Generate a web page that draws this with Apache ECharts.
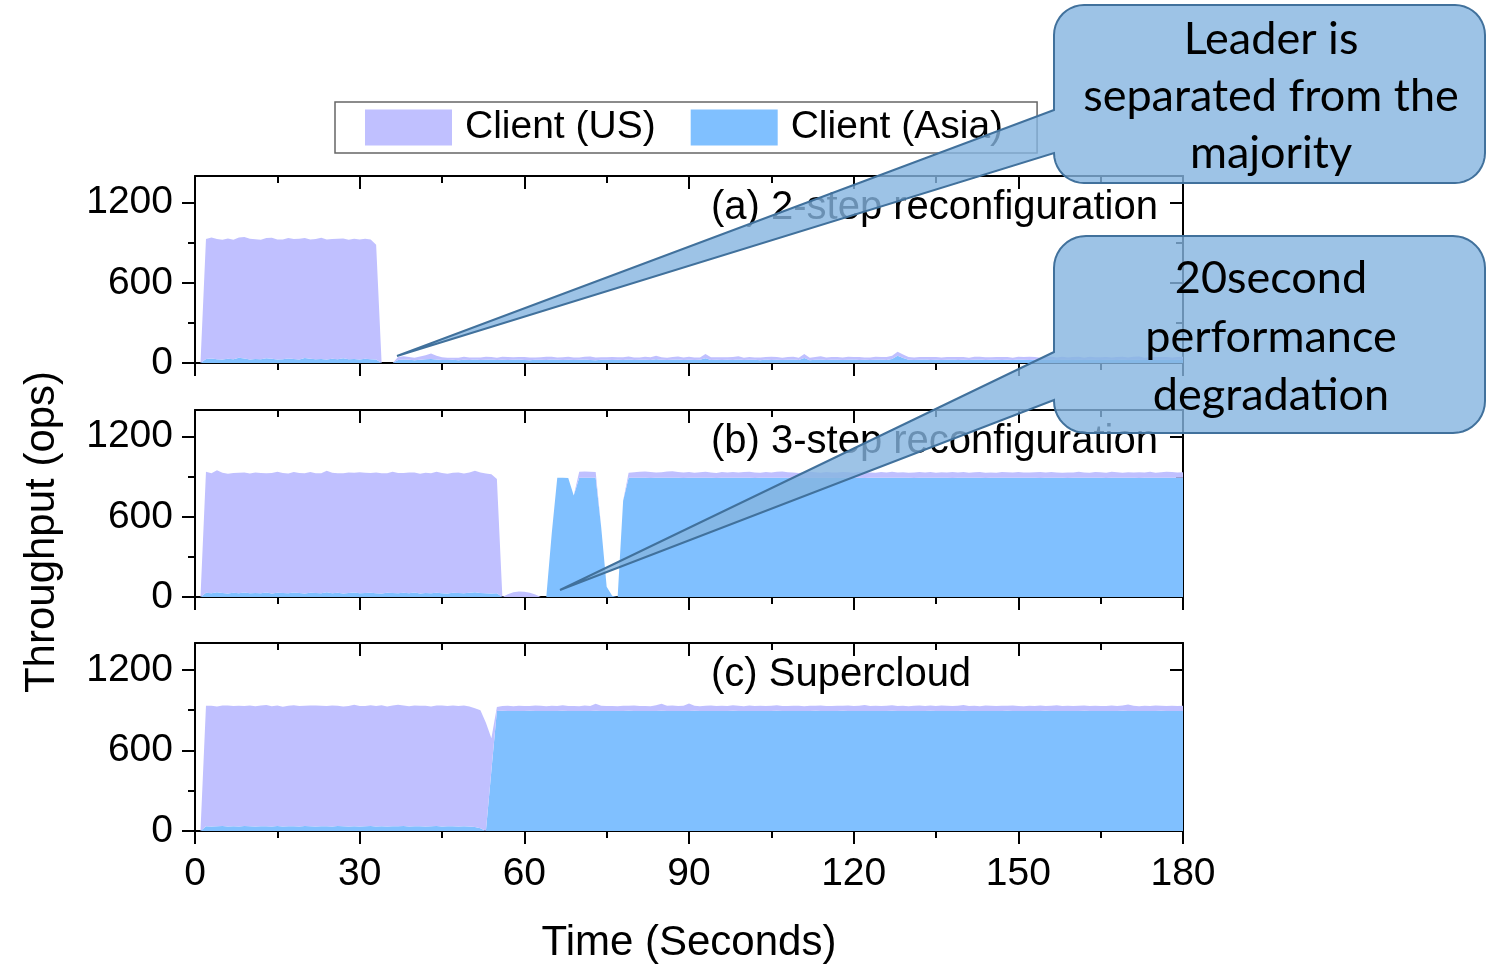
<!DOCTYPE html>
<html><head><meta charset="utf-8">
<script src="https://cdn.jsdelivr.net/npm/echarts@6/dist/echarts.min.js"></script>
<style>html,body{margin:0;padding:0;background:#fff}#c{width:1486px;height:972px}</style>
</head><body><div id="c"></div>
<script>
// ---------------- DATA ----------------
const seriesNames = ['Client (US)', 'Client (Asia)'];
const panelTitles = ['(a) 2-step reconfiguration', '(b) 3-step reconfiguration', '(c) Supercloud'];
const yMajorTicks = [0, 600, 1200];
const yMinorTicks = [300, 900];
const times = Array.from({length: 181}, (_, i) => i); // seconds 0..180

// (a) 2-step reconfiguration
const usA = [0,0,
 898,905,900,896,902,893,899,910,903,897,894,901,906,898,895,903,899,904,897,893,900,907,899,896,902,898,894,901,897,900,895,
 858,
 0,0,0,
 22,25,20,18,24,30,42,28,20,17,
 15,18,21,19,16,20,22,18,17,21,
 23,19,18,22,20,17,19,24,21,18,
 20,22,19,17,21,25,20,18,19,22,
 18,20,23,19,17,21,20,26,19,18,
 20,22,18,21,19,17,32,20,18,21,
 19,22,24,18,20,17,21,19,23,20,
 18,21,20,17,30,19,20,24,18,21,
 19,20,22,18,21,17,20,23,19,22,
 24,30,26,20,18,21,19,22,20,18,
 21,19,23,20,17,22,19,21,18,20,
 22,19,17,21,20,24,19,18,22,20,
 19,21,18,23,20,17,22,19,21,20,
 18,22,20,19,21,24,18,20,22,19,
 21,18,20,22];
const asiaA = [0,0,
 30,34,28,26,31,29,40,33,27,30,28,35,31,26,29,33,30,27,38,31,28,30,26,32,29,35,28,30,27,31,29,
 27,
 0,0,0,
 22,26,24,21,25,28,30,26,23,22,
 24,21,25,23,26,22,24,27,23,25,
 22,24,26,23,21,25,24,22,26,24,
 23,25,22,24,26,23,21,25,24,22,
 25,23,26,22,24,25,23,28,24,22,
 24,26,23,25,22,24,35,23,25,22,
 24,23,26,22,25,24,21,26,23,25,
 22,24,26,23,38,21,24,27,23,24,
 25,22,24,26,23,25,22,24,26,23,
 30,55,38,25,23,24,26,22,25,23,
 24,26,22,25,23,24,27,22,25,24,
 23,25,22,26,24,23,25,22,24,26,
 23,25,24,22,26,23,25,24,22,25,
 24,22,26,23,25,24,22,25,23,26,
 24,23,25,24];

// (b) 3-step reconfiguration
const usB = [0,0,
 905,898,912,900,895,897,902,899,896,903,
 900,894,901,907,899,896,902,898,900,905,
 897,899,910,902,896,900,903,898,906,901,
 897,904,899,895,908,900,897,903,899,896,
 901,898,906,900,895,899,903,897,901,910,
 902,896,893,
 855,
 0,
 20,35,42,40,32,18,
 0,0,0,0,0,0,0,
 45,48,46,44,
 0,0,0,0,0,
 38,42,45,48,44,40,42,46,50,44,
 41,43,39,42,45,40,38,43,41,44,
 40,42,46,41,39,43,40,44,48,42,
 40,38,42,45,41,39,43,40,42,44,
 41,39,44,42,40,38,43,41,45,40,
 42,39,41,44,40,43,38,42,40,45,
 41,43,39,42,44,40,41,38,43,42,
 40,44,41,39,42,45,40,43,41,38,
 42,40,44,41,39,43,42,40,45,41,
 39,42,40,43,41,44,38,42,46,43,
 40,42];
const asiaB = [0,0,
 32,28,36,30,27,31,29,33,28,30,
 29,33,27,31,30,28,34,30,27,31,
 30,28,35,29,31,27,30,33,28,30,
 31,29,27,32,30,28,31,29,33,27,
 30,28,32,29,27,31,30,28,32,35,
 30,28,26,
 29,
 0,0,0,0,0,0,0,0,0,
 480,892,892,890,760,892,892,892,892,524,77,10,0,720,
 892,892,893,892,891,892,892,893,892,892,
 891,892,892,892,893,892,891,892,892,892,
 892,893,892,891,892,892,892,893,892,892,
 892,891,892,892,893,892,892,892,891,892,
 893,892,892,891,892,892,893,892,892,892,
 892,892,891,892,893,892,892,892,892,891,
 892,893,892,892,892,891,892,892,893,892,
 892,892,892,893,892,891,892,892,892,892,
 891,892,893,892,892,892,892,891,892,893,
 892,892,892,891,892,893,892,892,892,892,
 892,892];

// (c) Supercloud
const usC = [0,0,
 896,899,893,897,901,895,898,894,900,896,
 899,903,895,897,892,898,901,896,894,899,
 902,897,895,900,896,893,898,904,897,895,
 899,896,901,894,898,906,897,895,900,896,
 898,893,897,901,895,899,896,900,894,885,
 880,806,240,
 30,35,38,36,39,37,35,40,38,36,
 39,37,41,36,38,35,40,37,52,39,
 36,38,35,39,37,40,36,38,35,42,
 52,38,40,36,39,56,37,35,38,40,
 36,39,37,41,38,35,40,37,39,36,
 38,41,37,36,40,38,35,39,37,41,
 38,36,39,37,40,36,38,45,37,39,
 36,38,41,37,39,35,38,40,36,39,
 37,41,38,36,39,44,37,38,36,40,
 38,36,39,37,41,38,35,39,37,40,
 36,38,42,37,39,36,38,40,37,39,
 38,36,40,37,39,48,38,36,39,37,
 40,38,36,39,37,38];
const asiaC = [0,0,
 36,34,35,38,33,36,34,37,35,33,
 36,35,34,37,33,35,36,34,38,35,
 33,36,35,34,37,35,33,36,34,35,
 37,34,35,33,36,35,38,34,35,36,
 34,35,37,33,35,36,34,35,33,30,
 20,0,450,
 894,895,894,893,894,894,895,894,894,893,
 894,894,895,894,893,894,894,894,895,894,
 894,893,894,894,895,894,894,893,894,894,
 895,894,894,894,893,894,895,894,894,894,
 894,893,894,895,894,894,894,893,894,894,
 894,895,894,894,893,894,894,894,895,894,
 893,894,894,895,894,894,894,893,894,894,
 894,894,895,894,893,894,894,894,894,895,
 894,893,894,894,894,895,894,894,893,894,
 894,894,894,895,894,893,894,894,894,894,
 895,894,894,893,894,894,894,895,894,894,
 893,894,894,894,895,894,894,893,894,894,
 894,895,894,894,893,894];

const panels = [
  {us: usA, asia: asiaA},
  {us: usB, asia: asiaB},
  {us: usC, asia: asiaC}
];

// ---------------- STYLE / LAYOUT ----------------
const FONT = '"Liberation Sans", Arial, sans-serif';
const CALLOUT_FONT = 'Lato, "Open Sans", sans-serif';
const COL_US = '#c0c0ff';
const COL_ASIA = '#80c0ff';
const gridTops = [176, 410, 643];
const GRID_H = 187;

const grid = [], xAxis = [], yAxis = [], series = [];
const lineBlack = {color: '#000', width: 2};
const plain = v => String(v);

gridTops.forEach((top, i) => {
  grid.push({left: 195, right: 303, top: top, height: GRID_H + (i === 2 ? 1 : 0), containLabel: false});
  const last = i === 2;
  // bottom value x (ticks / labels)
  xAxis.push({
    type: 'value', gridIndex: i, position: 'bottom', min: 0, max: 180, interval: 30,
    axisLine: {show: true, onZero: false, lineStyle: lineBlack},
    axisTick: {show: true, inside: false, length: 13, lineStyle: lineBlack},
    minorTick: {show: true, splitNumber: 2, length: 7, lineStyle: lineBlack},
    axisLabel: {show: last, fontSize: 39, color: '#000', fontFamily: FONT, margin: 24, formatter: plain},
    splitLine: {show: false}, minorSplitLine: {show: false},
    name: last ? 'Time (Seconds)' : '', nameLocation: 'middle', nameGap: 91,
    nameTextStyle: {fontSize: 42, color: '#000', fontFamily: FONT}
  });
  // top value x (mirror)
  xAxis.push({
    type: 'value', gridIndex: i, position: 'top', min: 0, max: 180, interval: 30,
    axisLine: {show: true, onZero: false, lineStyle: lineBlack},
    axisTick: {show: true, inside: true, length: 13, lineStyle: lineBlack},
    minorTick: {show: true, splitNumber: 2, length: 7, lineStyle: lineBlack},
    axisLabel: {show: false}, splitLine: {show: false}
  });
  // hidden category axis carrying the series (seconds 0..180)
  xAxis.push({
    type: 'category', gridIndex: i, position: 'bottom', data: times, boundaryGap: false, show: false
  });
  // left major
  yAxis.push({
    type: 'value', gridIndex: i, position: 'left', min: 0, max: 1400,
    axisLine: {show: true, onZero: false, lineStyle: lineBlack},
    axisTick: {show: true, inside: false, length: 13, lineStyle: lineBlack, customValues: yMajorTicks},
    axisLabel: {show: true, fontSize: 39, color: '#000', fontFamily: FONT, margin: 22, customValues: yMajorTicks, formatter: plain},
    splitLine: {show: false}
  });
  // left minor
  yAxis.push({
    type: 'value', gridIndex: i, position: 'left', min: 0, max: 1400,
    axisLine: {show: false, onZero: false},
    axisTick: {show: true, inside: false, length: 7, lineStyle: lineBlack, customValues: yMinorTicks},
    axisLabel: {show: false}, splitLine: {show: false}
  });
  // right major
  yAxis.push({
    type: 'value', gridIndex: i, position: 'right', min: 0, max: 1400,
    axisLine: {show: true, onZero: false, lineStyle: lineBlack},
    axisTick: {show: true, inside: true, length: 13, lineStyle: lineBlack, customValues: yMajorTicks},
    axisLabel: {show: false}, splitLine: {show: false}
  });
  // right minor
  yAxis.push({
    type: 'value', gridIndex: i, position: 'right', min: 0, max: 1400,
    axisLine: {show: false, onZero: false},
    axisTick: {show: true, inside: true, length: 7, lineStyle: lineBlack, customValues: yMinorTicks},
    axisLabel: {show: false}, splitLine: {show: false}
  });

  const p = panels[i];
  const mk = (name, vals, color) => ({
    name: name, type: 'line', xAxisIndex: 3 * i + 2, yAxisIndex: 4 * i, stack: 'p' + i,
    data: vals,
    symbol: 'none', showSymbol: false, smooth: false,
    lineStyle: {width: 0, color: color},
    itemStyle: {color: color},
    areaStyle: {color: color, opacity: 1},
    emphasis: {disabled: true}, silent: true, z: 2
  });
  series.push(mk(seriesNames[1], p.asia, COL_ASIA));
  series.push(mk(seriesNames[0], p.us, COL_US));
});

// callout polygon with rounded corners and a pointer on the left edge
function calloutPoints(x0, y0, x1, y1, r, b1, b2, tx, ty) {
  const pts = [];
  const arc = (cx, cy, a0, a1) => {
    const n = 10;
    for (let k = 0; k <= n; k++) {
      const a = a0 + (a1 - a0) * k / n;
      pts.push([cx + r * Math.cos(a), cy + r * Math.sin(a)]);
    }
  };
  arc(x0 + r, y0 + r, Math.PI, 1.5 * Math.PI);
  arc(x1 - r, y0 + r, 1.5 * Math.PI, 2 * Math.PI);
  arc(x1 - r, y1 - r, 0, 0.5 * Math.PI);
  arc(x0 + r, y1 - r, 0.5 * Math.PI, Math.PI);
  pts.push([x0, b2], [tx, ty], [x0, b1]);
  return pts;
}
const calloutStyle = {fill: 'rgba(132,180,224,0.8)', stroke: '#41719c', lineWidth: 2};
const callouts = [
  {box: [1054, 5, 1485, 183], r: 30, base: [110, 153], tip: [397, 356],
   lines: ['Leader is', 'separated from the', 'majority'], ys: [39, 96, 153]},
  {box: [1054, 236, 1485, 433], r: 32, base: [352, 400], tip: [560, 590],
   lines: ['20second', 'performance', 'degradation'], ys: [278, 337, 395]}
];

const graphic = [];
panelTitles.forEach((t, i) => {
  graphic.push({type: 'text', x: 711, y: gridTops[i] + 32, z: 10,
    style: {text: t, fontSize: 40, fontFamily: FONT, fill: '#000', align: 'left', verticalAlign: 'middle'}});
});
graphic.push({type: 'text', x: 42, y: 532, rotation: Math.PI / 2, z: 10,
  style: {text: 'Throughput (ops)', fontSize: 42, fontFamily: FONT, fill: '#000', align: 'center', verticalAlign: 'middle'}});
callouts.forEach(c => {
  graphic.push({type: 'polygon', z: 100,
    shape: {points: calloutPoints(c.box[0], c.box[1], c.box[2], c.box[3], c.r, c.base[0], c.base[1], c.tip[0], c.tip[1])},
    style: calloutStyle});
  c.lines.forEach((ln, k) => {
    graphic.push({type: 'text', x: 1271, y: c.ys[k], z: 101,
      style: {text: ln, fontSize: 45, fontFamily: CALLOUT_FONT, fill: '#000', align: 'center', verticalAlign: 'middle'}});
  });
});

const chart = echarts.init(document.getElementById('c'), null, {renderer: 'canvas'});
chart.setOption({
  animation: false,
  backgroundColor: '#fff',
  legend: {
    data: seriesNames, left: 335, top: 102, orient: 'horizontal', icon: 'rect',
    itemWidth: 87, itemHeight: 36, itemGap: 35, padding: [6, 34, 6, 30],
    borderColor: '#666', borderWidth: 1.5, selectedMode: false,
    textStyle: {fontSize: 39, color: '#000', fontFamily: FONT, padding: [0, 0, 0, 8]}
  },
  grid, xAxis, yAxis, series, graphic
});
</script></body></html>
